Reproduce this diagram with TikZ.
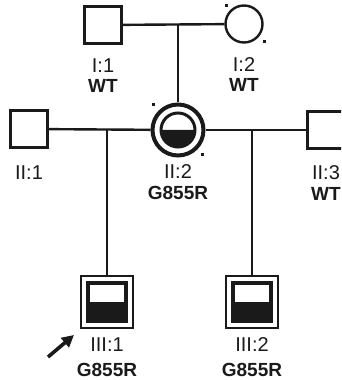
\documentclass[tikz,border=0pt]{standalone}
\usepackage{fontspec}
\setmainfont{Liberation Sans}
\usetikzlibrary{positioning,arrows.meta}
\definecolor{ink}{HTML}{1A1A1A}

\tikzset{
  male/.style={draw=ink, line width=2.4pt, minimum size=37pt, inner sep=0pt, shape=rectangle},
  female/.style={draw=ink, line width=2.4pt, minimum size=37pt, inner sep=0pt, shape=circle},
  carrier/.style={draw=ink, line width=2.8pt, minimum size=52pt, inner sep=0pt, shape=rectangle},
  lbl/.style={inner sep=0pt, text=ink, font=\fontsize{20}{22}\selectfont},
  geno/.style={lbl, font=\fontsize{19}{22}\selectfont\bfseries},
  tie/.style={draw=ink, line width=2.4pt},
  speck/.style={fill=ink}
}

\begin{document}
\begin{tikzpicture}[x=1pt, y=1pt]
  \clip (0,0) rectangle (341,380);
  \fill[white] (0,0) rectangle (341,380);

  % generation I
  \node[male] (I1) at (103,355) {};
  \node[female] (I2) at (244,356) {};
  \node[lbl, below=14pt of I1] (I1n) {I:1};
  \node[geno, below=6pt of I1n] (I1g) {WT};
  \node[lbl, below=14pt of I2] (I2n) {I:2};
  \node[geno, below=6pt of I2n] (I2g) {WT};
  \draw[tie] (I1) -- (I2);
  \coordinate (m1) at (178,355);

  % generation II
  \node[male] (II1) at (29,251) {};
  \node[circle, draw=ink, line width=4pt, minimum size=51pt, inner sep=0pt] (II2) at (178,250) {};
  \node[male] (II3) at (326,250) {};
  \fill[ink] (II2.center) ++(-17,0) arc[start angle=180, end angle=360, radius=17] -- cycle;
  \draw[ink, line width=3pt] (II2.center) circle[radius=17];
  \node[lbl, below=17pt of II1] (II1n) {II:1};
  \node[lbl, below=7pt of II2] (II2n) {II:2};
  \node[geno, below=7pt of II2n] (II2g) {G855R};
  \node[lbl, below=16pt of II3] (II3n) {II:3};
  \node[geno, below=7pt of II3n] (II3g) {WT};
  \draw[tie] (II1) -- (II2);
  \draw[tie] (II2) -- (II3);
  \draw[tie] (m1) -- (II2);
  \coordinate (m2) at (107,250);
  \coordinate (m3) at (252,250);

  % generation III
  \node[carrier] (III1) at (107,78) {};
  \node[carrier] (III2) at (252,78) {};
  \foreach \k in {III1,III2}{
    \fill[ink] (\k.center) ++(-20.5,-20.5) rectangle ++(41,20.5);
    \draw[ink, line width=3.2pt] (\k.center) ++(-19,-19) rectangle ++(38,38);
  }
  \node[lbl, below=8pt of III1] (III1n) {III:1};
  \node[geno, below=11pt of III1n] (III1g) {G855R};
  \node[lbl, below=8pt of III2] (III2n) {III:2};
  \node[geno, below=11pt of III2n] (III2g) {G855R};
  \draw[tie] (m2) -- (III1);
  \draw[tie] (m3) -- (III2);

  % proband arrow
  \coordinate (pb) at (48,23);
  \coordinate (pt) at (74,45);
  \draw[ink, line width=3.6pt, -{Triangle[length=12pt, width=12pt]}] (pb) -- (pt);

  % specks
  \fill[speck] (224.5,372.5) rectangle ++(3,3);
  \fill[speck] (262.5,336.5) rectangle ++(3,3);
  \fill[speck] (151.5,273.5) rectangle ++(3,3);
  \fill[speck] (200.5,223.5) rectangle ++(3,3);
\end{tikzpicture}
\end{document}
